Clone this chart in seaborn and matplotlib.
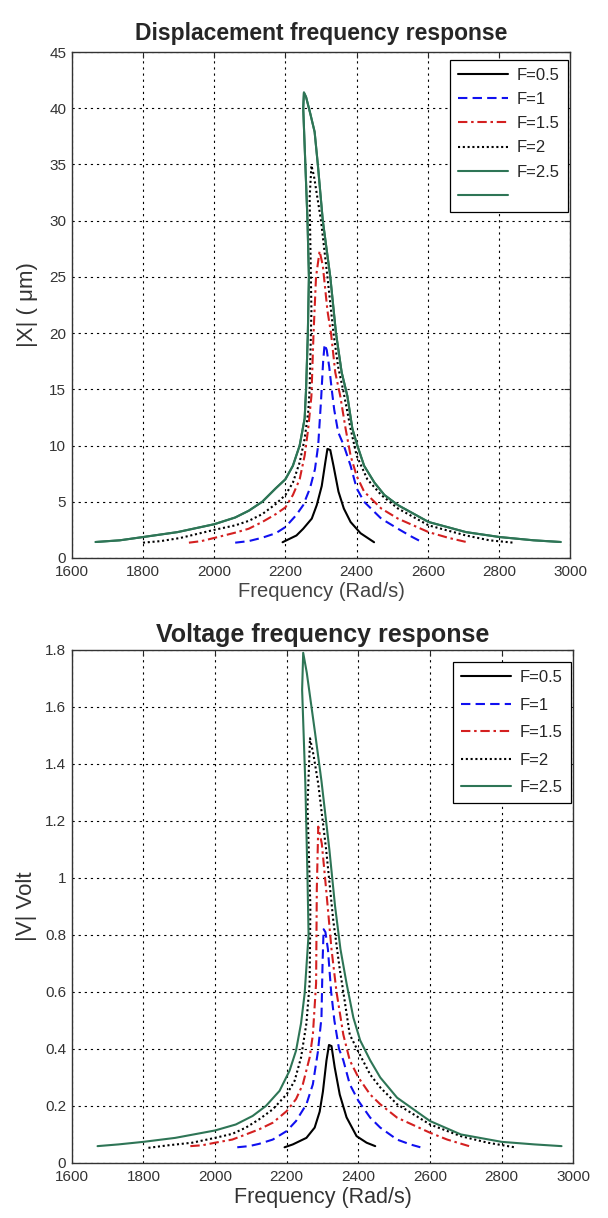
import matplotlib
matplotlib.use("Agg")
import matplotlib.pyplot as plt
import seaborn as sns
import numpy as np
import pandas as pd

# values (path order: up the left side, down the right)
force_labels = ["F=0.5", "F=1", "F=1.5", "F=2", "F=2.5"]

# displacement |X| (um)
x_f05 = [2192, 2231, 2250, 2274, 2288, 2302, 2312, 2318, 2326, 2335, 2349, 2364, 2383, 2411, 2449]
d_f05 = [1.4, 2.0, 2.6, 3.5, 4.7, 6.4, 8.5, 9.7, 9.6, 8.2, 5.9, 4.4, 3.2, 2.2, 1.4]

x_f10 = [2059, 2097, 2135, 2173, 2200, 2230, 2250, 2269, 2283, 2292, 2300, 2306, 2310, 2316,
         2323, 2330, 2337, 2348, 2364, 2383, 2400, 2421, 2469, 2516, 2554, 2583]
d_f10 = [1.36, 1.5, 1.8, 2.2, 2.75, 3.8, 4.7, 6.2, 7.9, 10, 14, 17.5, 19, 18.5,
         17, 15, 13.2, 11.2, 10, 8.2, 6.2, 5.0, 3.5, 2.6, 1.9, 1.42]

x_f15 = [1929, 1964, 2000, 2059, 2097, 2135, 2173, 2200, 2221, 2240, 2254, 2264, 2273, 2279,
         2286, 2296, 2305, 2318, 2328, 2340, 2354, 2369, 2383, 2400, 2421, 2469, 2516, 2602,
         2659, 2716]
d_f15 = [1.36, 1.5, 1.78, 2.25, 2.6, 3.2, 3.9, 4.5, 5.6, 7.0, 9.1, 11.5, 14.4, 20,
         25, 27.3, 26, 22, 20, 16.5, 14.4, 11.5, 9.1, 7.3, 5.9, 4.4, 3.5, 2.3,
         1.78, 1.36]

x_f20 = [1800, 1850, 1905, 2000, 2059, 2097, 2135, 2173, 2200, 2221, 2240, 2254, 2264, 2268,
         2273, 2270, 2268, 2273, 2280, 2300, 2318, 2335, 2348, 2363, 2383, 2400, 2430, 2469,
         2516, 2602, 2707, 2773, 2840]
d_f20 = [1.36, 1.5, 1.78, 2.5, 2.9, 3.3, 3.9, 4.8, 5.6, 6.7, 8.5, 10.6, 13, 15,
         22, 28, 32, 34.9, 34, 30, 25, 20, 17, 14.8, 11.5, 9.1, 7.0, 5.6,
         4.4, 2.9, 2.0, 1.57, 1.36]

x_f25 = [1667, 1735, 1800, 1897, 2000, 2059, 2097, 2135, 2173, 2200, 2221, 2240, 2254, 2258,
         2263, 2266, 2262, 2256, 2250, 2252, 2258, 2270, 2282, 2291, 2305, 2326, 2342, 2358,
         2374, 2388, 2402, 2421, 2450, 2478, 2516, 2602, 2707, 2802, 2897, 2973]
d_f25 = [1.42, 1.57, 1.86, 2.3, 3.0, 3.6, 4.2, 5.0, 6.2, 7.0, 8.2, 10, 12.4, 15,
         20, 25, 30, 35, 40, 41.4, 41, 39.5, 37.9, 35, 30, 25, 20, 16.5,
         14.4, 11.5, 10, 8.2, 6.7, 5.6, 4.7, 3.2, 2.3, 1.86, 1.57, 1.42]

# voltage |V| (Volt)
xv_f05 = [2194, 2217, 2255, 2278, 2292, 2301, 2311, 2318, 2325, 2334, 2348, 2367, 2395, 2423, 2447]
v_f05 = [0.055, 0.065, 0.088, 0.124, 0.18, 0.25, 0.36, 0.414, 0.41, 0.335, 0.24, 0.16, 0.094, 0.071, 0.059]

xv_f10 = [2062, 2095, 2123, 2161, 2200, 2226, 2255, 2273, 2287, 2297, 2300, 2303, 2308, 2315,
          2324, 2333, 2346, 2358, 2376, 2400, 2433, 2461, 2508, 2545, 2573]
v_f10 = [0.055, 0.059, 0.067, 0.082, 0.112, 0.147, 0.206, 0.276, 0.39, 0.51, 0.7, 0.82, 0.81, 0.75,
         0.6, 0.5, 0.4, 0.36, 0.276, 0.218, 0.159, 0.124, 0.082, 0.065, 0.055]

xv_f15 = [1931, 1964, 2000, 2048, 2086, 2123, 2161, 2200, 2226, 2245, 2264, 2273, 2282, 2284,
          2288, 2298, 2310, 2325, 2339, 2358, 2376, 2400, 2433, 2461, 2508, 2600, 2648, 2709]
v_f15 = [0.059, 0.062, 0.071, 0.082, 0.1, 0.118, 0.141, 0.182, 0.224, 0.276, 0.37, 0.45, 0.63, 0.96,
         1.18, 1.12, 0.96, 0.75, 0.6, 0.45, 0.36, 0.3, 0.24, 0.206, 0.159, 0.106, 0.082, 0.059]

xv_f20 = [1814, 1870, 1936, 2000, 2048, 2086, 2123, 2161, 2200, 2222, 2240, 2255, 2264, 2266,
          2258, 2265, 2275, 2288, 2310, 2330, 2348, 2358, 2376, 2400, 2433, 2461, 2508, 2600,
          2686, 2761, 2836]
v_f20 = [0.053, 0.062, 0.071, 0.088, 0.102, 0.124, 0.153, 0.188, 0.241, 0.288, 0.37, 0.49, 0.63, 0.9,
         1.25, 1.49, 1.43, 1.33, 1.1, 0.85, 0.68, 0.6, 0.45, 0.39, 0.31, 0.265, 0.206, 0.135,
         0.094, 0.071, 0.055]

xv_f25 = [1672, 1730, 1800, 1889, 2000, 2058, 2105, 2142, 2180, 2208, 2226, 2240, 2250, 2261,
          2258, 2252, 2243, 2246, 2256, 2279, 2297, 2319, 2335, 2350, 2367, 2386, 2405, 2433,
          2461, 2508, 2600, 2686, 2800, 2892, 2967]
v_f25 = [0.059, 0.065, 0.074, 0.088, 0.114, 0.135, 0.165, 0.2, 0.253, 0.324, 0.394, 0.49, 0.594, 0.8,
         1.0, 1.33, 1.66, 1.79, 1.72, 1.51, 1.34, 1.1, 0.9, 0.75, 0.63, 0.51, 0.43, 0.36,
         0.3, 0.229, 0.147, 0.1, 0.074, 0.065, 0.059]

freq_ticks = [1600, 1800, 2000, 2200, 2400, 2600, 2800, 3000]
disp_ticks = [0, 5, 10, 15, 20, 25, 30, 35, 40, 45]
volt_ticks = [0, 0.2, 0.4, 0.6, 0.8, 1.0, 1.2, 1.4, 1.6, 1.8]
volt_tick_labels = ["0", "0.2", "0.4", "0.6", "0.8", "1", "1.2", "1.4", "1.6", "1.8"]

sns.set_style("white")
plt.rcParams['font.family'] = ['Liberation Sans', 'DejaVu Sans']

green = "#2e7556"
styles = [
    dict(color="black", linestyle="-"),
    dict(color="#1010f0", linestyle=(0, (4.5, 2.5))),
    dict(color="#d42020", linestyle=(0, (4.5, 1.8, 1.2, 1.8))),
    dict(color="black", linestyle=(0, (1, 1.3))),
    dict(color=green, linestyle="-"),
]

fig = plt.figure(figsize=(6.08, 12.18), dpi=100)
ax1 = fig.add_axes([0.118, 0.5419, 0.820, 0.4154])
ax2 = fig.add_axes([0.118, 0.0452, 0.825, 0.4212])

disp_curves = [(x_f05, d_f05), (x_f10, d_f10), (x_f15, d_f15), (x_f20, d_f20), (x_f25, d_f25)]
volt_curves = [(xv_f05, v_f05), (xv_f10, v_f10), (xv_f15, v_f15), (xv_f20, v_f20), (xv_f25, v_f25)]


def draw(ax, curves, extra_blank=False, spacing=0.55, anchor=(0.995, 0.985)):
    handles = []
    labels = []
    for (xs, ys), lab, st in zip(curves, force_labels, styles):
        df = pd.DataFrame({"f": xs, "a": ys})
        sns.lineplot(data=df, x="f", y="a", sort=False, estimator=None, ax=ax,
                     linewidth=1.5, **st)
        handles.append(ax.lines[-1])
        labels.append(lab)
    if extra_blank:
        # the green response was drawn a second time in the original (empty legend entry)
        xs, ys = curves[-1]
        df = pd.DataFrame({"f": xs, "a": ys})
        sns.lineplot(data=df, x="f", y="a", sort=False, estimator=None, ax=ax,
                     linewidth=1.5, color=green)
        handles.append(ax.lines[-1])
        labels.append("")
    leg = ax.legend(handles, labels, loc="upper right", fontsize=12, fancybox=False,
                    framealpha=1, edgecolor="black", handlelength=3.0, borderpad=0.5,
                    labelspacing=spacing, handletextpad=0.5, borderaxespad=0.0,
                    bbox_to_anchor=anchor)
    leg.get_frame().set_linewidth(0.9)
    ax.set_xlim(1600, 3000)
    ax.set_xticks(freq_ticks)
    ax.grid(True, color="black", linestyle=(0, (2, 3.5)), linewidth=0.8)
    ax.tick_params(direction="in", top=True, right=True, length=4, labelsize=11,
                   labelcolor="#333333")
    ax.tick_params(axis="x", pad=5)
    ax.tick_params(axis="y", pad=4)
    for s in ax.spines.values():
        s.set_color("#333333")
        s.set_linewidth(1.0)


draw(ax1, disp_curves, extra_blank=True, spacing=0.55, anchor=(0.995, 0.985))
ax1.set_ylim(0, 45)
ax1.set_yticks(disp_ticks)
ax1.set_title("Displacement frequency response", fontsize=16.5, fontweight="bold", pad=9)
ax1.set_xlabel("Frequency (Rad/s)", fontsize=14.5, color="#444444", labelpad=2)
ax1.set_ylabel("|X| ( \u03bcm)", fontsize=16, color="#333333", labelpad=8)

draw(ax2, volt_curves, spacing=0.75, anchor=(0.995, 0.977))
ax2.set_ylim(0, 1.8)
ax2.set_yticks(volt_ticks)
ax2.set_yticklabels(volt_tick_labels)
ax2.set_title("Voltage frequency response", fontsize=18, fontweight="bold", pad=6)
ax2.set_xlabel("Frequency (Rad/s)", fontsize=15.5, color="#333333", labelpad=2)
ax2.set_ylabel("|V| Volt", fontsize=16, color="#333333", labelpad=6)

fig.savefig("out.png", dpi=100)
